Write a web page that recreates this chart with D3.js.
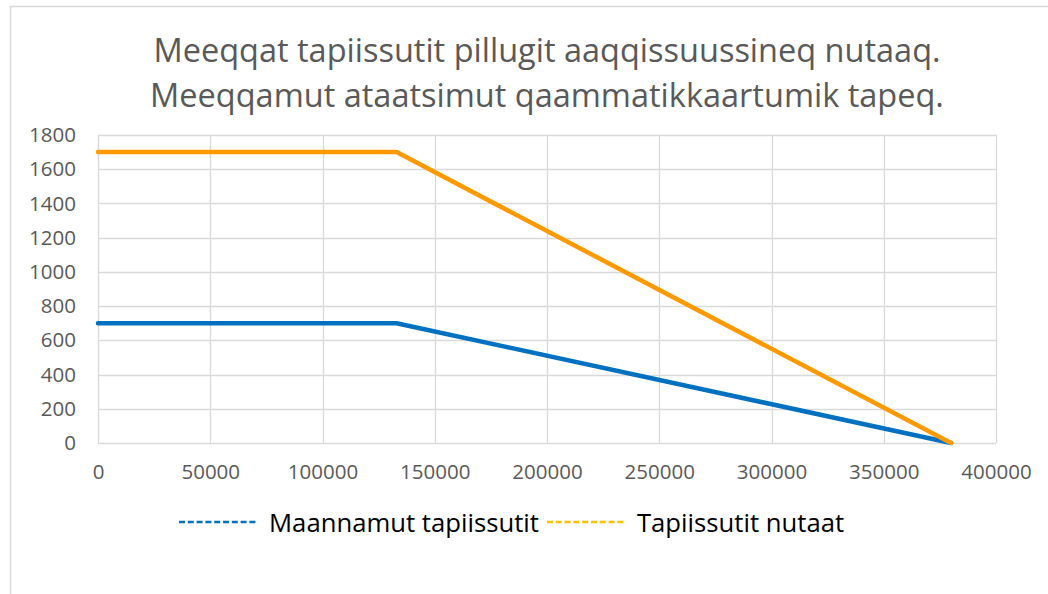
<!DOCTYPE html>
<html><head><meta charset="utf-8">
<script src="https://cdn.jsdelivr.net/npm/d3@7"></script>
<style>html,body{margin:0;padding:0;background:#fff;}svg{display:block;}</style>
</head><body>
<svg id="c" width="1048" height="594"></svg>
<script>
const titleLines = ["Meeqqat tapiissutit pillugit aaqqissuussineq nutaaq.", "Meeqqamut ataatsimut qaammatikkaartumik tapeq."];
const xValues = [0, 133000, 380000];
const maannamut = [700, 700, 0];
const nutaat = [1700, 1700, 0];
const seriesNames = ["Maannamut tapiissutit", "Tapiissutit nutaat"];
const xTicks = [0, 50000, 100000, 150000, 200000, 250000, 300000, 350000, 400000];
const yTicks = [0, 200, 400, 600, 800, 1000, 1200, 1400, 1600, 1800];

const lineColors = ["#0070C0", "#FF9900"];
const legendColors = ["#0070C0", "#FFC000"];
const font = "'Open Sans', sans-serif";

const svg = d3.select("#c");
svg.append("rect").attr("x", 10.5).attr("y", 6.5).attr("width", 1200).attr("height", 800)
  .attr("fill", "none").attr("stroke", "#d9d9d9").attr("stroke-width", 1.5);

const x = d3.scaleLinear().domain([0, 400000]).range([98, 996]);
const y = d3.scaleLinear().domain([0, 1800]).range([443, 135]);

// gridlines
const g = svg.append("g");
g.selectAll("line.h").data(yTicks).join("line").attr("class", "h")
  .attr("x1", x(0)).attr("x2", x(400000)).attr("y1", d => Math.round(y(d)) + 0.5).attr("y2", d => Math.round(y(d)) + 0.5)
  .attr("stroke", "#d9d9d9").attr("stroke-width", 1.3);
g.selectAll("line.v").data(xTicks).join("line").attr("class", "v")
  .attr("y1", y(0)).attr("y2", y(1800)).attr("x1", d => Math.round(x(d)) + 0.5).attr("x2", d => Math.round(x(d)) + 0.5)
  .attr("stroke", "#d9d9d9").attr("stroke-width", 1.3);

// axes labels
const yAxis = d3.axisLeft(y).tickValues(yTicks).tickSize(0).tickPadding(22).tickFormat(d3.format("d"));
const ya = svg.append("g").attr("transform", `translate(${x(0)},0)`).call(yAxis);
const xAxis = d3.axisBottom(x).tickValues(xTicks).tickSize(0).tickPadding(21).tickFormat(d3.format("d"));
const xa = svg.append("g").attr("transform", `translate(0,${y(0)})`).call(xAxis);
[ya, xa].forEach(a => {
  a.select(".domain").remove();
  a.selectAll("text").attr("font-family", font).attr("font-size", 20.5).attr("fill", "#595959");
});

// lines
const series = [maannamut, nutaat];
const line = d3.line().x((d, i) => x(xValues[i])).y(d => y(d));
svg.selectAll("path.s").data(series).join("path").attr("class", "s")
  .attr("d", d => line(d)).attr("fill", "none")
  .attr("stroke", (d, i) => lineColors[i]).attr("stroke-width", 4.5)
  .attr("stroke-linejoin", "round").attr("stroke-linecap", "round");

// title
svg.selectAll("text.t").data(titleLines).join("text").attr("class", "t")
  .attr("x", 547).attr("y", (d, i) => 62 + i * 45)
  .attr("text-anchor", "middle").attr("font-family", font).attr("font-size", 32.5)
  .attr("fill", "#595959").text(d => d);

// legend
let lx = 179;
const ly = 522;
seriesNames.forEach((name, i) => {
  svg.append("line").attr("x1", lx).attr("x2", lx + 79).attr("y1", ly).attr("y2", ly)
    .attr("stroke", legendColors[i]).attr("stroke-width", 2.5).attr("stroke-dasharray", "6 2.8");
  const t = svg.append("text").attr("x", lx + 90).attr("y", ly + 9.5)
    .attr("font-family", font).attr("font-size", 25.7).attr("fill", "#000").text(name);
  lx = lx + 90 + t.node().getComputedTextLength() + 8;
});
</script>
</body></html>
